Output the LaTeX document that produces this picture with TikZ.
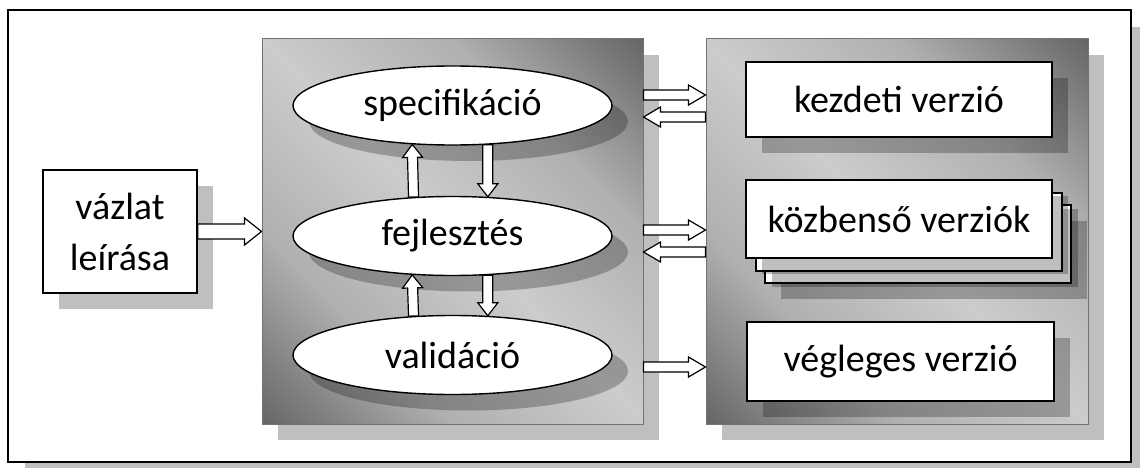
\documentclass[tikz,border=0pt]{standalone}
\usepackage{fontspec}
\setmainfont{Carlito}
\usetikzlibrary{calc,shapes.geometric,shadows}
% dark corners on one diagonal, light band along the other
\pgfdeclarehorizontalshading{diagband}{100bp}{%
  color(0bp)=(black!60); color(14.6bp)=(black!60); color(32.3bp)=(black!31);
  color(50bp)=(black!20); color(67.7bp)=(black!31); color(85.4bp)=(black!60);
  color(100bp)=(black!60)}
\tikzset{
  lbl/.style={font=\fontsize{38}{51}\selectfont, align=center, text=black},
  castshadow/.style={drop shadow={shadow xshift=16pt, shadow yshift=-16pt, fill=black, opacity=0.25}},
  card/.style={lbl, draw=black, line width=1.4pt, fill=white, inner sep=0pt, castshadow},
  oval/.style={card, ellipse, minimum width=319pt, minimum height=79pt},
  panel/.style={draw=black!55, line width=1pt, inner sep=0pt, shading=diagband, shading angle=45},
  shadowfill/.style={fill=black, fill opacity=0.25},
  arrowbox/.style={draw=black, line width=1.2pt, fill=white, line join=miter},
}
% hollow block arrow: from, to, half shaft width, half head width, head length
\newcommand\blockarrow[5]{%
  \path (#1) coordinate (ba0) (#2) coordinate (ba1);
  \path ($(ba1)!#5!(ba0)$) coordinate (bab);
  \draw[arrowbox] ($(ba0)!#3!90:(ba1)$) -- ($(bab)!#3!-90:(ba0)$)
    -- ($(bab)!#4!-90:(ba0)$) -- (ba1) -- ($(bab)!#4!90:(ba0)$)
    -- ($(bab)!#3!90:(ba0)$) -- ($(ba0)!#3!-90:(ba1)$) -- cycle;}
\begin{document}
\begin{tikzpicture}[x=1pt, y=-1pt]
\useasboundingbox (0,0) rectangle (1140,468);

% outer frame
\fill[shadowfill] (25,27) rectangle (1150,480);
\draw[line width=2pt, fill=white] (8,10) rectangle (1131,462);

% the two shaded panels
\fill[shadowfill] (278,55) rectangle (659,440);
\node[panel, minimum width=381pt, minimum height=385pt] (mid) at (452.5,231.5) {};
\fill[shadowfill] (722,55) rectangle (1104,440);
\node[panel, minimum width=382pt, minimum height=385pt] (out) at (897,231.5) {};

% input
\node[card, minimum width=154pt, minimum height=123pt] (sketch) at (120,231.5) {vázlat\\leírása};

% activities
\node[oval] (spec) at (452.5,105.5) {specifikáció};
\node[oval] (dev) at (452.5,236) {fejlesztés};
\node[oval] (val) at (452.5,355) {validáció};

% versions
\node[card, minimum width=306pt, minimum height=75pt] (first) at (899,99.5) {kezdeti verzió};
\node[card, minimum width=306pt, minimum height=78pt] (mid3) at (918,244) {};
\node[card, minimum width=306pt, minimum height=78pt] (mid2) at (909,232) {};
\node[card, minimum width=306pt, minimum height=78pt] (mid1) at (899,219) {közbenső verziók};
\node[card, minimum width=307pt, minimum height=79pt] (final) at (900.5,361.5) {végleges verzió};

% arrows
\blockarrow{sketch.east}{mid.west}{7.5pt}{13.5pt}{17pt}
\blockarrow{dev.135.9}{spec.224.1}{5pt}{10pt}{13pt}
\blockarrow{spec.-48.1}{dev.48.1}{5pt}{10pt}{13pt}
\blockarrow{val.135.9}{dev.224.1}{5pt}{10pt}{13pt}
\blockarrow{dev.-48.1}{val.48.1}{5pt}{10pt}{13pt}
\blockarrow{mid.east |- 0,95}{out.west |- 0,95}{5pt}{10pt}{17pt}
\blockarrow{out.west |- 0,117}{mid.east |- 0,117}{5pt}{10pt}{17pt}
\blockarrow{mid.east |- 0,230}{out.west |- 0,230}{5pt}{10pt}{17pt}
\blockarrow{out.west |- 0,252}{mid.east |- 0,252}{5pt}{10pt}{17pt}
\blockarrow{mid.east |- 0,367}{out.west |- 0,367}{5pt}{10pt}{17pt}
\end{tikzpicture}
\end{document}
